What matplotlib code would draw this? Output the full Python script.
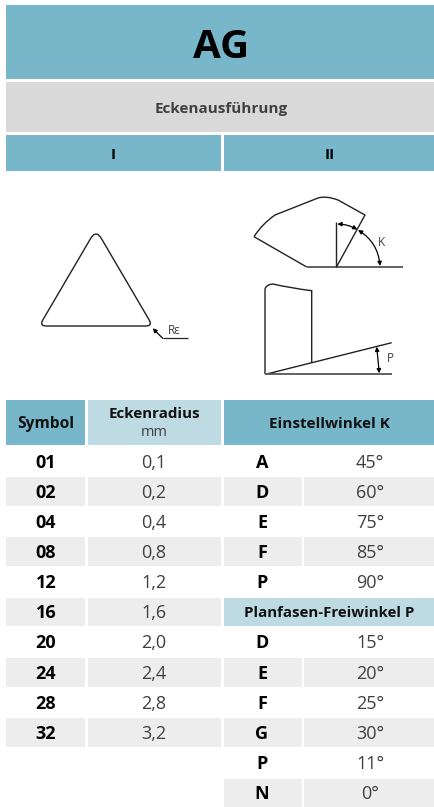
import matplotlib
matplotlib.use('Agg')
import matplotlib.pyplot as plt
from matplotlib.patches import Rectangle, PathPatch, FancyArrowPatch
from matplotlib.path import Path

symbols = ['01', '02', '04', '08', '12', '16', '20', '24', '28', '32']
radii = ['0,1', '0,2', '0,4', '0,8', '1,2', '1,6', '2,0', '2,4', '2,8', '3,2']
k_letters = ['A', 'D', 'E', 'F', 'P']
k_angles = ['45°', '60°', '75°', '85°', '90°']
p_letters = ['D', 'E', 'F', 'G', 'P', 'N']
p_angles = ['15°', '20°', '25°', '30°', '11°', '0°']

TEAL = '#78b6c9'
LIGHT = '#bedae3'
GREY = '#d9d9d9'
BAND = '#ededed'
DARK = '#404040'
LINE = '#222222'

plt.rcParams['font.family'] = ['Open Sans', 'DejaVu Sans']

fig = plt.figure(figsize=(4.35, 8.07), dpi=100, facecolor='white')
ax = fig.add_axes([0, 0, 1, 1])
ax.set_xlim(0, 435)
ax.set_ylim(807, 0)
ax.axis('off')


def box(x0, y0, x1, y1, color):
    ax.add_patch(Rectangle((x0, y0), x1 - x0, y1 - y0, fc=color, ec='none'))


def label(x, y, s, size=12.5, bold=False, color='black'):
    ax.text(x, y, s, fontsize=size, color=color, ha='center', va='center',
            fontweight='bold' if bold else 'normal')


def line(xs, ys, color=LINE, lw=1.0):
    ax.plot(xs, ys, color=color, lw=lw, solid_capstyle='butt')


def arrow(p0, p1, style='-|>', rad=0.0):
    ax.add_patch(FancyArrowPatch(p0, p1, arrowstyle=style, mutation_scale=6,
                                 connectionstyle='arc3,rad=%g' % rad,
                                 color='black', lw=0.9, shrinkA=0, shrinkB=0))


# header blocks
box(6, 5, 435, 79, TEAL)
box(6, 82, 435, 132, GREY)
box(6, 135, 221, 171, TEAL)
box(224, 135, 435, 171, TEAL)
label(221, 47, 'AG', size=29, bold=True)
label(221, 108.5, 'Eckenausführung', size=11, bold=True, color=DARK)
label(113.5, 155, 'I', size=11, bold=True)
label(329.5, 155, 'II', size=11, bold=True)

# triangle, rounded corners
tri = Path([(90.5, 238.7), (96, 229.3), (101.5, 238.7),
            (149.2, 320), (152.7, 326), (145.7, 326),
            (46.3, 326), (39.3, 326), (42.8, 320),
            (90.5, 238.7)],
           [Path.MOVETO, Path.CURVE3, Path.CURVE3,
            Path.LINETO, Path.CURVE3, Path.CURVE3,
            Path.LINETO, Path.CURVE3, Path.CURVE3,
            Path.LINETO])
ax.add_patch(PathPatch(tri, fc='none', ec=LINE, lw=1.0))
line([162.7, 188.3], [338.3, 338.3], lw=0.9)
arrow((162.7, 338.3), (152.7, 328.3))
label(174, 331, 'Rε', size=8.5, color=DARK)

# upper sketch
top = Path([(254, 236.7), (262, 224), (275, 215),
            (318, 198), (326, 195.5), (338, 200), (365, 215),
            (336.3, 267.3)],
           [Path.MOVETO, Path.CURVE3, Path.CURVE3,
            Path.LINETO, Path.CURVE3, Path.CURVE3, Path.LINETO,
            Path.LINETO])
ax.add_patch(PathPatch(top, fc='none', ec=LINE, lw=1.0))
line([254, 306.7], [236.7, 267])
line([306.7, 402.7], [267, 267], color='#555555', lw=1.3)
line([336.3, 336.3], [221.7, 267])
arrow((337.3, 224), (357.3, 229.5), style='<|-|>', rad=-0.12)
arrow((358, 230), (380, 266), style='<|-|>', rad=-0.25)
label(381.3, 242, 'K', size=8.5, color=DARK)

# lower sketch
low = Path([(265, 374), (265, 290), (265, 286), (270, 284.5), (273, 284),
            (290, 288), (311.7, 290.7), (311.7, 362.7)],
           [Path.MOVETO, Path.LINETO, Path.CURVE3, Path.CURVE3, Path.LINETO,
            Path.CURVE3, Path.CURVE3, Path.LINETO])
ax.add_patch(PathPatch(low, fc='none', ec=LINE, lw=1.0))
line([266.7, 391.7], [374, 342.7])
line([265, 391.7], [374, 374], color='#555555', lw=1.3)
arrow((376.7, 346.7), (379.3, 373.3), style='<|-|>')
label(390.7, 358.5, 'P', size=8.5, color=DARK)

# table head
box(6, 400, 85, 444.5, TEAL)
box(88, 400, 221, 444.5, LIGHT)
box(224, 400, 435, 444.5, TEAL)
label(46, 424, 'Symbol', size=11.2, bold=True, color='#111111')
label(154, 414.5, 'Eckenradius', size=10.9, bold=True, color='#111111')
label(154, 433, 'mm', size=10.5, color=DARK)
label(329.5, 424, 'Einstellwinkel K', size=11, bold=True, color='#111111')

# left columns
for i, (s, r) in enumerate(zip(symbols, radii)):
    yc = 462.5 + i * 30.15
    if i % 2 == 1:
        box(6, yc - 15.5, 85, yc + 13, BAND)
        box(88, yc - 15.5, 221, yc + 13, BAND)
    label(46, yc, s, size=13, bold=True)
    label(153.5, yc, r, size=13, color=DARK)

# right columns
for i, (s, a) in enumerate(zip(k_letters, k_angles)):
    yc = 462.5 + i * 30.15
    if i % 2 == 1:
        box(224, yc - 15.5, 302, yc + 13, BAND)
        box(304, yc - 15.5, 435, yc + 13, BAND)
    label(262, yc, s, size=13, bold=True)
    label(370, yc, a, size=13, color=DARK)

yc = 462.5 + 5 * 30.15
box(224, yc - 15.5, 435, yc + 13, LIGHT)
label(329.5, yc - 0.5, 'Planfasen-Freiwinkel P', size=10.8, bold=True, color='#111111')

for i, (s, a) in enumerate(zip(p_letters, p_angles)):
    yc = 462.5 + (i + 6) * 30.15
    if i % 2 == 1:
        box(224, yc - 15.5, 302, yc + 13, BAND)
        box(304, yc - 15.5, 435, yc + 13, BAND)
    label(262, yc, s, size=13, bold=True)
    label(370, yc, a, size=13, color=DARK)

fig.savefig('out.png', dpi=100, facecolor='white')
